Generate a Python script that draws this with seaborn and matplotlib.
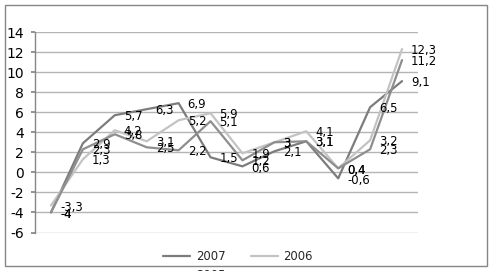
import numpy as np
import pandas as pd
import matplotlib
matplotlib.use("Agg")
import matplotlib.pyplot as plt
import seaborn as sns
from matplotlib.patches import Rectangle
from matplotlib.lines import Line2D

sns.set_theme(style="white")
plt.rcParams['font.family'] = ['DejaVu Sans']
plt.rcParams['axes.unicode_minus'] = False

# ---- data ----
periods = list(range(1, 13))
years = ["2007", "2006", "2005"]
v2007 = [-4, 2.9, 5.7, 6.3, 6.9, 1.5, 0.6, 2.1, 3.1, -0.6, 6.5, 9.1]
v2006 = [-3.3, 1.3, 4.2, 3.1, 5.2, 5.9, 1.9, 3.0, 4.1, 0.4, 3.2, 12.3]
v2005 = [-4, 2.3, 3.8, 2.5, 2.2, 5.1, 1.2, 3.0, 3.1, 0.4, 2.3, 11.2]
yticks = [-6, -4, -2, 0, 2, 4, 6, 8, 10, 12, 14]

series = {"2007": v2007, "2006": v2006, "2005": v2005}
df = pd.DataFrame([(p, y, v) for y in years for p, v in zip(periods, series[y])],
                  columns=["period", "year", "value"])
df["idx"] = df["period"] - 1

palette = {"2007": "#7c7c7c", "2006": "#c3c3c3", "2005": "#8e8e8e"}

W, H = 496, 271
fig = plt.figure(figsize=(W / 100, H / 100), dpi=100)
fig.patch.set_facecolor("white")

# outer chart frame
fig.patches.append(Rectangle((5 / W, 1 - 266 / H), 482 / W, 261 / H, transform=fig.transFigure,
                             fill=False, edgecolor="#868686", linewidth=1.0))

ax = fig.add_axes([35 / W, 1 - 232.5 / H, 383 / W, 200.5 / H])
ax.set_facecolor("white")

sns.lineplot(data=df, x="idx", y="value", hue="year", hue_order=years, palette=palette,
             linewidth=1.6, ax=ax, legend=False, sort=False)

ax.set_xlim(-0.5, 11.5)
ax.set_ylim(-6, 14)
ax.set_yticks(yticks)
ax.set_yticklabels([str(t) for t in yticks], fontsize=10, color="black")
ax.set_xticks([])
ax.set_xlabel("")
ax.set_ylabel("")
for t in yticks:
    ax.axhline(t, color="#b4b4b4", linewidth=1.0, zorder=0)
for s in ["top", "right", "bottom"]:
    ax.spines[s].set_visible(False)
ax.spines["left"].set_color("#868686")
ax.spines["left"].set_linewidth(1.0)
ax.tick_params(axis="y", length=3, color="#868686", pad=5, direction="out", left=True)

def fmt(v):
    if float(v).is_integer():
        return str(int(v))
    return ("%.1f" % v).replace(".", ",")

for y in years:
    for i, v in enumerate(series[y]):
        ax.annotate(fmt(v), (i, v), xytext=(6.5, -1.2), textcoords="offset points",
                    ha="left", va="center", fontsize=8.4, color="black", zorder=5)

# legend (row-major look: 2007, 2006 / 2005)
h = {y: Line2D([], [], color=palette[y], linewidth=1.6) for y in years}
fig.legend([h["2007"], h["2005"], h["2006"]], ["2007", "2005", "2006"], ncol=2,
           loc="upper left", bbox_to_anchor=(163 / W, 1 - 250 / H), frameon=False,
           fontsize=8.4, handlelength=2.35, handletextpad=0.45, columnspacing=2.2,
           labelspacing=0.5, borderpad=0, borderaxespad=0)

fig.savefig("out.png", dpi=100)
